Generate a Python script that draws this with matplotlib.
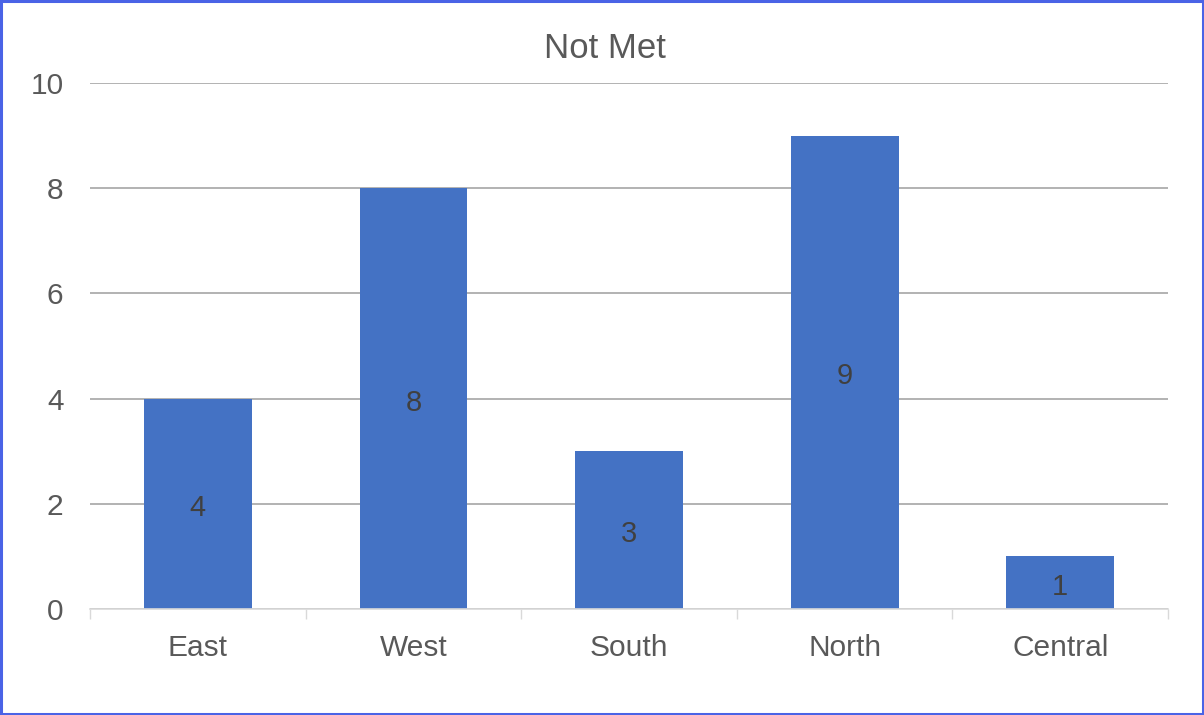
import matplotlib
matplotlib.use("Agg")
import matplotlib.pyplot as plt
from matplotlib.patches import Rectangle
import numpy as np

plt.rcParams["font.family"] = ["Liberation Sans", "DejaVu Sans"]

regions = ["East", "West", "South", "North", "Central"]
not_met = [4, 8, 3, 9, 1]
y_ticks = [0, 2, 4, 6, 8, 10]

bar_color = "#4472C4"
text_color = "#595959"

fig = plt.figure(figsize=(12.04, 7.15), dpi=100)
ax = fig.add_axes([90 / 1204, 1 - 609 / 715, (1168 - 90) / 1204, (609 - 83) / 715])

x = np.arange(len(regions))
bars = ax.bar(x, not_met, width=0.5, color=bar_color, zorder=3)

# data labels in the middle of each bar (nudged a little down like the original)
for xi, val in zip(x, not_met):
    ax.annotate(str(val), (xi, val / 2), xytext=(0, -3), textcoords="offset points",
                ha="center", va="center", fontsize=21, color="#404040", zorder=4)

ax.set_xlim(-0.5, len(regions) - 0.5)
ax.set_ylim(0, 10)
ax.set_yticks(y_ticks)
ax.set_yticklabels([str(t) for t in y_ticks])
ax.set_xticks(x)
ax.set_xticklabels(regions)

# category boundary tick marks
ax.set_xticks(np.arange(len(regions) + 1) - 0.5, minor=True)
ax.tick_params(axis="x", which="minor", length=7, color="#D9D9D9", width=1)
ax.tick_params(axis="x", which="major", length=0, pad=18, labelsize=21.5, labelcolor=text_color)
ax.tick_params(axis="y", length=0, pad=19, labelsize=21.5, labelcolor=text_color)

ax.grid(axis="y", color="#A6A6A6", linewidth=1.2, zorder=0)
for side in ["top", "right", "left"]:
    ax.spines[side].set_visible(False)
ax.spines["bottom"].set_color("#D9D9D9")
ax.spines["bottom"].set_linewidth(1.2)
ax.spines["bottom"].set_zorder(5)

fig.text(605 / 1204, 1 - 49 / 715, "Not Met", ha="center", va="center",
         fontsize=25, color=text_color)

# blue border around the whole chart
fig.patches.append(Rectangle((0.001, 0.0015), 0.998, 0.997, transform=fig.transFigure,
                             fill=False, edgecolor="#4A63E6", linewidth=2.2))

fig.savefig("out.png", dpi=100)
